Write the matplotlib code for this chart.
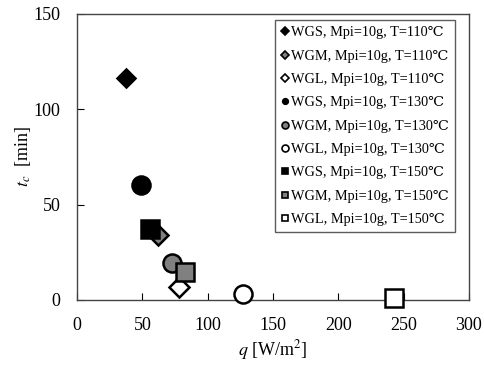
import matplotlib
matplotlib.use("Agg")
import matplotlib.pyplot as plt
from matplotlib.lines import Line2D

plt.rcParams['font.family'] = ['Liberation Serif', 'DejaVu Serif']
plt.rcParams['mathtext.fontset'] = 'stix'

labels = ['WGS, Mpi=10g, T=110℃', 'WGM, Mpi=10g, T=110℃', 'WGL, Mpi=10g, T=110℃',
          'WGS, Mpi=10g, T=130℃', 'WGM, Mpi=10g, T=130℃', 'WGL, Mpi=10g, T=130℃',
          'WGS, Mpi=10g, T=150℃', 'WGM, Mpi=10g, T=150℃', 'WGL, Mpi=10g, T=150℃']
q = [37.5, 62, 78, 49, 72.7, 127, 56, 82.6, 242.5]
tc = [116.5, 34, 6.5, 60, 19.5, 3.2, 37, 14.7, 1]
markers = ['D', 'D', 'D', 'o', 'o', 'o', 's', 's', 's']
fills = ['black', 'gray', 'white'] * 3
sizes = [9, 10, 10, 13, 13, 13, 13, 13, 13]
leg_sizes = [4.5, 4.5, 4.5, 4, 5, 5, 5, 5, 5]

fig, ax = plt.subplots(figsize=(4.85, 3.67), dpi=100)
fig.subplots_adjust(left=0.159, right=0.967, top=0.962, bottom=0.183)

handles = []
for i in range(len(q)):
    ax.plot(q[i], tc[i], linestyle='none', marker=markers[i], markersize=sizes[i],
            markerfacecolor=fills[i], markeredgecolor='black', markeredgewidth=1.8,
            clip_on=False, zorder=3)
    handles.append(Line2D([], [], linestyle='none', marker=markers[i], markersize=leg_sizes[i],
                          markerfacecolor=fills[i], markeredgecolor='black', markeredgewidth=1.2))

ax.set_xlim(0, 300)
ax.set_ylim(0, 150)
ax.set_xticks([0, 50, 100, 150, 200, 250, 300])
ax.set_yticks([0, 50, 100, 150])
ax.tick_params(direction='in', labelsize=13, length=5)
ax.tick_params(axis='x', pad=12)
ax.tick_params(axis='y', pad=12)
for s in ax.spines.values():
    s.set_color('#444444')
    s.set_linewidth(1.0)

ax.set_xlabel('$q$ [W/m$^2$]', fontsize=13, labelpad=3)
ax.set_ylabel('$t_c$  [min]', fontsize=13, labelpad=0)

leg = ax.legend(handles, labels, loc='upper right', bbox_to_anchor=(0.964, 0.979),
                fontsize=10.3, frameon=True, fancybox=False, edgecolor='#333333',
                handlelength=0.5, handletextpad=0.15, labelspacing=0.72,
                borderpad=0.45, borderaxespad=0)
leg.get_frame().set_linewidth(1.0)

fig.savefig('out.png', dpi=100)
